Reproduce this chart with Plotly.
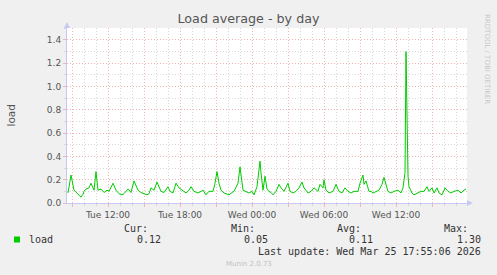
import plotly.graph_objects as go

# ---------------- data ----------------
times = [
    "2026-03-24 08:40", "2026-03-24 08:55", "2026-03-24 09:10", "2026-03-24 09:30", "2026-03-24 09:45",
    "2026-03-24 09:55", "2026-03-24 10:00", "2026-03-24 10:10", "2026-03-24 10:25", "2026-03-24 10:35",
    "2026-03-24 10:50", "2026-03-24 11:00", "2026-03-24 11:10", "2026-03-24 11:25", "2026-03-24 11:40",
    "2026-03-24 11:55", "2026-03-24 12:05", "2026-03-24 12:25", "2026-03-24 12:40", "2026-03-24 12:55",
    "2026-03-24 13:10", "2026-03-24 13:20", "2026-03-24 13:40", "2026-03-24 13:55", "2026-03-24 14:10",
    "2026-03-24 14:30", "2026-03-24 14:45", "2026-03-24 15:00", "2026-03-24 15:15", "2026-03-24 15:25",
    "2026-03-24 15:35", "2026-03-24 15:50", "2026-03-24 16:05", "2026-03-24 16:25", "2026-03-24 16:40",
    "2026-03-24 17:00", "2026-03-24 17:10", "2026-03-24 17:25", "2026-03-24 17:40", "2026-03-24 17:55",
    "2026-03-24 18:15", "2026-03-24 18:30", "2026-03-24 18:45", "2026-03-24 18:55", "2026-03-24 19:10",
    "2026-03-24 19:30", "2026-03-24 19:45", "2026-03-24 19:55", "2026-03-24 20:10", "2026-03-24 20:25",
    "2026-03-24 20:45", "2026-03-24 20:55", "2026-03-24 21:05", "2026-03-24 21:15", "2026-03-24 21:25",
    "2026-03-24 21:40", "2026-03-24 21:50", "2026-03-24 22:05", "2026-03-24 22:20", "2026-03-24 22:30",
    "2026-03-24 22:50", "2026-03-24 23:00", "2026-03-24 23:15", "2026-03-24 23:30", "2026-03-24 23:45",
    "2026-03-25 00:00", "2026-03-25 00:10", "2026-03-25 00:25", "2026-03-25 00:40", "2026-03-25 00:45",
    "2026-03-25 00:55", "2026-03-25 01:05", "2026-03-25 01:15", "2026-03-25 01:25", "2026-03-25 01:35",
    "2026-03-25 01:45", "2026-03-25 02:00", "2026-03-25 02:15", "2026-03-25 02:25", "2026-03-25 02:40",
    "2026-03-25 03:00", "2026-03-25 03:10", "2026-03-25 03:25", "2026-03-25 03:40", "2026-03-25 03:55",
    "2026-03-25 04:10", "2026-03-25 04:20", "2026-03-25 04:40", "2026-03-25 04:55", "2026-03-25 05:10",
    "2026-03-25 05:30", "2026-03-25 05:40", "2026-03-25 05:55", "2026-03-25 06:00", "2026-03-25 06:10",
    "2026-03-25 06:25", "2026-03-25 06:45", "2026-03-25 07:00", "2026-03-25 07:15", "2026-03-25 07:30",
    "2026-03-25 07:45", "2026-03-25 08:00", "2026-03-25 08:15", "2026-03-25 08:30", "2026-03-25 08:50",
    "2026-03-25 09:00", "2026-03-25 09:15", "2026-03-25 09:20", "2026-03-25 09:30", "2026-03-25 09:45",
    "2026-03-25 09:55", "2026-03-25 10:05", "2026-03-25 10:20", "2026-03-25 10:35", "2026-03-25 10:50",
    "2026-03-25 11:00", "2026-03-25 11:05", "2026-03-25 11:20", "2026-03-25 11:35", "2026-03-25 11:50",
    "2026-03-25 12:10", "2026-03-25 12:25", "2026-03-25 12:35", "2026-03-25 12:45", "2026-03-25 12:50",
    "2026-03-25 13:00", "2026-03-25 13:05", "2026-03-25 13:20", "2026-03-25 13:30", "2026-03-25 13:50",
    "2026-03-25 14:05", "2026-03-25 14:20", "2026-03-25 14:35", "2026-03-25 14:45", "2026-03-25 15:00",
    "2026-03-25 15:10", "2026-03-25 15:25", "2026-03-25 15:35", "2026-03-25 15:50", "2026-03-25 16:05",
    "2026-03-25 16:20", "2026-03-25 16:35", "2026-03-25 16:50", "2026-03-25 17:10", "2026-03-25 17:25",
    "2026-03-25 17:40", "2026-03-25 17:50",
]
load = [
    0.086, 0.24, 0.11, 0.08, 0.05,
    0.075, 0.10, 0.12, 0.13, 0.17,
    0.11, 0.27, 0.11, 0.12, 0.09,
    0.11, 0.10, 0.17, 0.11, 0.08,
    0.07, 0.08, 0.12, 0.09, 0.19,
    0.11, 0.09, 0.08, 0.07, 0.08,
    0.13, 0.11, 0.18, 0.10, 0.09,
    0.14, 0.10, 0.086, 0.17, 0.13,
    0.10, 0.086, 0.11, 0.14, 0.10,
    0.086, 0.10, 0.11, 0.07, 0.10,
    0.10, 0.17, 0.27, 0.17, 0.11,
    0.086, 0.08, 0.07, 0.09, 0.10,
    0.17, 0.31, 0.11, 0.10, 0.086,
    0.10, 0.07, 0.14, 0.36, 0.26,
    0.11, 0.23, 0.12, 0.10, 0.09,
    0.07, 0.10, 0.16, 0.13, 0.10,
    0.17, 0.10, 0.086, 0.10, 0.13,
    0.18, 0.13, 0.086, 0.10, 0.13,
    0.10, 0.16, 0.13, 0.20, 0.11,
    0.086, 0.10, 0.16, 0.10, 0.086,
    0.13, 0.10, 0.086, 0.10, 0.10,
    0.17, 0.24, 0.16, 0.19, 0.10,
    0.10, 0.086, 0.10, 0.11, 0.16,
    0.22, 0.19, 0.10, 0.086, 0.10,
    0.11, 0.086, 0.13, 0.26, 1.30,
    0.23, 0.14, 0.086, 0.07, 0.086,
    0.10, 0.10, 0.14, 0.10, 0.13,
    0.086, 0.13, 0.086, 0.07, 0.13,
    0.10, 0.086, 0.10, 0.11, 0.086,
    0.11, 0.12,
]

x_range = ["2026-03-24 08:35", "2026-03-25 17:55"]
y_range = [0, 1.503]

tick_times = [
    "2026-03-24 09:00", "2026-03-24 12:00", "2026-03-24 15:00", "2026-03-24 18:00",
    "2026-03-24 21:00", "2026-03-25 00:00", "2026-03-25 03:00", "2026-03-25 06:00",
    "2026-03-25 09:00", "2026-03-25 12:00", "2026-03-25 15:00",
]
tick_labels = [
    "", "Tue 12:00", "", "Tue 18:00", "", "Wed 00:00", "", "Wed 06:00", "", "Wed 12:00", "",
]

legend_headers = ["Cur:", "Min:", "Avg:", "Max:"]
legend_values = ["0.12", "0.05", "0.11", "1.30"]
series_name = "load"
last_update = "Last update: Wed Mar 25 17:55:06 2026"

# ---------------- layout helpers ----------------
W, H = 497, 275
L, R, T, B = 67, 467, 28, 203


def xp(px):
    return (px - L) / (R - L)


def yp(py):
    return (B - py) / (B - T)


GREEN = "#00CC00"
MAJ = "#f4b4b4"
MIN = "#d8d8d8"
AXIS = "#c8c8f4"
TXT = "#555555"

fig = go.Figure()
fig.add_trace(go.Scatter(x=times, y=load, mode="lines", name=series_name,
                         line=dict(color=GREEN, width=1), showlegend=False,
                         hoverinfo="skip"))

fig.update_layout(
    width=W, height=H,
    margin=dict(l=L, r=W - R, t=T, b=H - B),
    paper_bgcolor="#F0F0F0",
    plot_bgcolor="#FFFFFF",
    showlegend=False,
    title=dict(text="Load average - by day", x=0.5, xanchor="center",
               y=1 - 19 / H, yanchor="middle",
               font=dict(family="DejaVu Sans", size=12.7, color=TXT)),
    font=dict(family="DejaVu Sans", color=TXT, size=9),
)

fig.update_xaxes(
    type="date", range=x_range,
    tickvals=tick_times, ticktext=tick_labels,
    showgrid=True, gridcolor=MAJ, griddash="1px,2px", gridwidth=1,
    ticks="outside", ticklen=3, tickcolor=MAJ,
    tickfont=dict(family="DejaVu Sans", size=9, color=TXT),
    showline=True, linecolor=AXIS, linewidth=1,
    zeroline=False,
    minor=dict(dtick=3600000, showgrid=True, gridcolor=MIN, griddash="1px,2px",
               ticks="outside", ticklen=2, tickcolor=MIN),
)
fig.update_yaxes(
    range=y_range, dtick=0.2, tick0=0, tickformat=".1f",
    showgrid=True, gridcolor=MAJ, griddash="1px,2px", gridwidth=1,
    ticks="outside", ticklen=3, tickcolor=MAJ,
    tickfont=dict(family="DejaVu Sans", size=9, color=TXT),
    showline=True, linecolor=AXIS, linewidth=1,
    zeroline=False,
    minor=dict(dtick=0.1, showgrid=True, gridcolor=MIN, griddash="1px,2px",
               ticks="outside", ticklen=2, tickcolor=MIN),
)

# y-axis title placed like munin's (far left)
fig.add_annotation(x=xp(10), y=yp(115.5), xref="paper", yref="paper", text=series_name,
                   showarrow=False, xanchor="center", yanchor="middle", textangle=-90,
                   font=dict(family="DejaVu Sans", size=10.5, color=TXT))

# axis arrows
fig.add_shape(type="path", xref="paper", yref="paper", xsizemode="pixel", ysizemode="pixel",
              xanchor=0, yanchor=1, path="M -3,0 L 3,0 L 0,6 Z",
              fillcolor=AXIS, line=dict(color=AXIS, width=0))
fig.add_shape(type="path", xref="paper", yref="paper", xsizemode="pixel", ysizemode="pixel",
              xanchor=1, yanchor=0, path="M 0,-3 L 0,3 L 6,0 Z",
              fillcolor=AXIS, line=dict(color=AXIS, width=0))

mono = dict(family="DejaVu Sans Mono", size=10, color="#333333")
head_x = [150, 257, 363, 470]
val_x = [163, 270, 375, 483]
for hx, txt in zip(head_x, legend_headers):
    fig.add_annotation(x=xp(hx), y=yp(228.5), xref="paper", yref="paper", text=txt,
                       showarrow=False, xanchor="right", yanchor="middle", font=mono)
for vx, txt in zip(val_x, legend_values):
    fig.add_annotation(x=xp(vx), y=yp(239.5), xref="paper", yref="paper", text=txt,
                       showarrow=False, xanchor="right", yanchor="middle", font=mono)
fig.add_annotation(x=xp(27), y=yp(239.5), xref="paper", yref="paper", text=series_name,
                   showarrow=False, xanchor="left", yanchor="middle", font=mono)
fig.add_shape(type="rect", xref="paper", yref="paper",
              x0=xp(14), x1=xp(20), y0=yp(242.5), y1=yp(236.5),
              fillcolor=GREEN, line=dict(width=0))
fig.add_annotation(x=xp(483), y=yp(251.5), xref="paper", yref="paper", text=last_update,
                   showarrow=False, xanchor="right", yanchor="middle", font=mono)
fig.add_annotation(x=xp(248.5), y=yp(264), xref="paper", yref="paper", text="Munin 2.0.73",
                   showarrow=False, xanchor="center", yanchor="middle",
                   font=dict(family="DejaVu Sans", size=7, color="#c0c0c0"))
fig.add_annotation(x=xp(487), y=yp(59), xref="paper", yref="paper", text="RRDTOOL / TOBI OETIKER",
                   showarrow=False, xanchor="center", yanchor="middle", textangle=90,
                   font=dict(family="DejaVu Sans", size=7, color="#c8c8c8"))

fig.write_html("out.html")
